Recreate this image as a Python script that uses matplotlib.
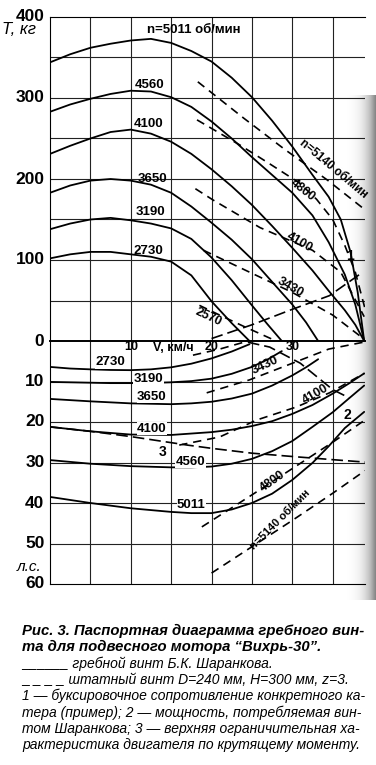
import numpy as np
import matplotlib
matplotlib.use('Agg')
import matplotlib.pyplot as plt

plt.rcParams['font.family'] = ['Liberation Sans', 'DejaVu Sans']

# --- тяга, винт Шаранкова (сплошные) ---
v_s5011 = [0, 2.5, 5, 7.5, 10, 12.5, 15, 17.5, 20, 22.5, 25, 27.5, 30, 32.5, 34.5, 36, 37.2, 38.1, 38.9]
t_s5011 = [344, 354, 362, 367, 371, 373, 368, 358, 345, 325, 301, 272, 240, 205, 178, 150, 110, 60, 0]
v_s4560 = [0, 2.5, 5, 7.5, 10, 12.5, 15, 17.5, 20, 22.5, 25, 27.5, 30, 32.5, 34.5, 36.5, 37.8, 38.9]
t_s4560 = [283, 292, 299, 305, 309, 308, 301, 289, 271, 250, 227, 205, 183, 155, 122, 82, 45, 0]
v_s4100 = [0, 2.5, 5, 7.5, 10, 12.5, 15, 17.5, 20, 22.5, 25, 27.5, 30, 32.5, 34.5, 36.5, 37.8, 38.9]
t_s4100 = [231, 241, 250, 258, 261, 256, 246, 231, 212, 191, 168, 142, 115, 87, 62, 38, 20, 0]
v_s3650 = [0, 2.5, 5, 7.5, 10, 12.5, 15, 17.5, 20, 22.5, 25, 27.5, 30, 31.7, 33.2]
t_s3650 = [183, 192, 198, 200, 198, 193, 183, 166, 146, 125, 101, 73, 45, 23, 0]
v_s3190 = [0, 2.5, 5, 7.5, 10, 12.5, 15, 17.5, 20, 22.5, 25, 26.9, 28.7]
t_s3190 = [138, 145, 150, 152, 149, 145, 139, 126, 103, 75, 44, 21, 0]
v_s2730 = [0, 2.5, 5, 7.5, 10, 12.5, 15, 17.5, 20, 22.5, 24.7]
t_s2730 = [102, 107, 110, 110, 107, 104, 98, 81, 49, 22, 0]

# --- тяга, штатный винт (пунктир) ---
v_d5140 = [18.3, 24, 29, 34.3, 39]
t_d5140 = [320, 275, 237, 199, 162]
v_d4800 = [18.2, 23.5, 27, 30.9, 33, 35, 36.5, 37.8, 39]
t_d4800 = [273, 242, 220, 195, 175, 150, 118, 85, 40]
v_d4100 = [18, 20.2, 26, 32.5, 36, 38.9]
t_d4100 = [188, 174, 140, 112, 85, 30]
v_d3430 = [19, 24.7, 30, 35, 38.8]
t_d3430 = [112, 85, 60, 32, 3]
v_d2570 = [18.5, 21, 24, 28]
t_d2570 = [44, 32, 18, 0]

# 1 - буксировочное сопротивление
v_tow = [20, 25, 29.7, 34.6, 38.3]
t_tow = [3, 20, 38, 56, 82]

# --- мощность, винт Шаранкова ---
v_p2730 = [0, 2.5, 5, 7.5, 10, 12.5, 15, 17.5, 20, 22.5, 24.7]
p_p2730 = [6.4, 6.8, 7.0, 7.15, 7.2, 7.0, 6.5, 5.6, 4.3, 2.6, 0.8]
v_p3190 = [0, 2.5, 5, 7.5, 10, 12.5, 15, 17.5, 20, 22.5, 25, 27, 28.7]
p_p3190 = [10.1, 10.2, 10.3, 10.4, 10.4, 10.35, 10.2, 9.9, 9.3, 8.1, 6.4, 4.5, 2.5]
v_p3650 = [0, 5, 10, 12.5, 15, 17.5, 20, 22.5, 25, 27.5, 30, 31.7, 33.2]
p_p3650 = [14.3, 14.9, 15.4, 15.5, 15.6, 15.4, 15, 14.2, 13, 11, 8.5, 6.5, 4.5]
v_p4100 = [0, 5, 10, 15, 20, 22.5, 25, 27.5, 30, 32.5, 35, 37, 38.9]
p_p4100 = [21.2, 22.3, 23.1, 23.2, 22.5, 21.9, 21, 19.8, 18, 15.8, 13, 10.5, 8]
v_p4560 = [0, 5, 10, 15, 17.5, 20, 22.5, 25, 27.5, 30, 32.5, 35, 37, 38.9]
p_p4560 = [29.4, 30.3, 30.9, 31.2, 31.2, 31, 30.3, 29.1, 27.2, 24.7, 21.2, 17.6, 14.2, 11]
v_p5011 = [0, 5, 10, 15, 17.5, 20, 22.5, 25, 27.5, 30, 32.5, 34.5, 36.5, 38.9]
p_p5011 = [38.5, 40, 41.3, 42.2, 42.5, 42.5, 41.6, 40, 37.7, 34.3, 30.1, 26, 21.5, 17.5]

# --- мощность, штатный винт ---
v_q2570 = [17.7, 21, 24]
p_q2570 = [3.5, 2, 0.3]
v_q3430 = [19.4, 24.7, 30, 34.5, 38.8]
p_q3430 = [12.8, 9.6, 5.5, 2, 0.3]
v_q4100 = [16, 21, 25.6, 30.5, 34.6, 38.9]
p_q4100 = [25.7, 23.7, 19.5, 16.3, 12.8, 8]
v_q4800 = [18.8, 25, 30, 35, 39]
p_q4800 = [45.9, 38, 31.5, 25, 19.5]
v_q5140 = [20, 25, 30, 35, 39]
p_q5140 = [57.3, 50.8, 44.3, 37.6, 32]

# 2 - мощность винта Шаранкова, 3 - ограничительная характеристика
v_c2 = [24.5, 27.2, 31, 35, 37]
p_c2 = [0.3, 1.5, 5.5, 12, 14]
v_c3 = [0, 5, 10, 17, 20, 25, 30.5, 35, 39]
p_c3 = [21.2, 22.3, 23.6, 25.7, 26.5, 27.7, 28.6, 29.3, 29.9]

t_ticks = [400, 300, 200, 100, 0]
p_ticks = [10, 20, 30, 40, 50, 60]
v_ticks = [10, 20, 30]

W, H = 376, 765
fig = plt.figure(figsize=(W / 100, H / 100), dpi=100)

# тень от сгиба страницы справа
shade = fig.add_axes([345 / W, 1 - 600 / H, 31 / W, 505 / H])
grad = np.linspace(0, 1, 40) ** 2
shade.imshow(np.tile(grad, (10, 1)), aspect='auto', cmap='Greys', vmin=0, vmax=1.8)
shade.axis('off')
shade.set_zorder(0)

L, R = 50, 365
ax_t = fig.add_axes([L / W, 1 - 341 / H, (R - L) / W, (341 - 17) / H])
ax_p = fig.add_axes([L / W, 1 - 584 / H, (R - L) / W, (584 - 341) / H])
for ax in (ax_t, ax_p):
    ax.set_zorder(1)
    ax.patch.set_alpha(0)
    ax.set_xlim(0, 39)
    ax.set_xticks(np.arange(5, 39, 5))
    ax.tick_params(length=0, labelbottom=False, labelleft=False)
    ax.grid(True, color='#222222', lw=0.8)
    ax.spines['right'].set_visible(False)
ax_t.set_ylim(0, 400)
ax_t.set_yticks(np.arange(50, 400, 50))
ax_t.spines['bottom'].set_visible(False)
ax_p.set_ylim(60, 0)
ax_p.set_yticks(np.arange(10, 60, 10))
ax_p.spines['top'].set_linewidth(1.4)

sol = dict(color='black', lw=1.3, solid_capstyle='round', solid_joinstyle='round')
dsh = dict(color='black', lw=1.2, ls=(0, (5, 3.5)))
dsh_long = dict(color='black', lw=1.2, ls=(0, (7, 3)))

for v, t in [(v_s5011, t_s5011), (v_s4560, t_s4560), (v_s4100, t_s4100),
             (v_s3650, t_s3650), (v_s3190, t_s3190), (v_s2730, t_s2730)]:
    ax_t.plot(v, t, **sol)
for v, t in [(v_d5140, t_d5140), (v_d4800, t_d4800), (v_d4100, t_d4100),
             (v_d3430, t_d3430), (v_d2570, t_d2570)]:
    ax_t.plot(v, t, **dsh)
ax_t.plot(v_tow, t_tow, **dsh_long)

for v, p in [(v_p2730, p_p2730), (v_p3190, p_p3190), (v_p3650, p_p3650),
             (v_p4100, p_p4100), (v_p4560, p_p4560), (v_p5011, p_p5011)]:
    ax_p.plot(v, p, **sol)
for v, p in [(v_q2570, p_q2570), (v_q3430, p_q3430), (v_q4100, p_q4100),
             (v_q4800, p_q4800), (v_q5140, p_q5140)]:
    ax_p.plot(v, p, **dsh)
ax_p.plot(v_c2, p_c2, **dsh_long)
ax_p.plot(v_c3, p_c3, **dsh_long)

# подписи осей
tb = dict(fontsize=12.5, fontweight='bold', ha='right', va='center')
for t in t_ticks:
    ax_t.annotate(str(t), (0, t), xytext=(-4, 0), textcoords='offset points',
                  annotation_clip=False, **tb)
for p in p_ticks:
    ax_p.annotate(str(p), (0, p), xytext=(-4, 0), textcoords='offset points',
                  annotation_clip=False, **tb)
for v in v_ticks:
    ax_p.text(v, 1.5, str(v), fontsize=9, fontweight='bold', ha='center', va='center')
ax_p.text(12.7, 1.7, 'V, км/ч', fontsize=9, fontweight='bold',
          ha='left', va='center')
fig.text(2 / W, 1 - 30 / H, 'T, кг', fontsize=12, style='italic', va='center')
fig.text(17 / W, 1 - 567 / H, 'л.с.', fontsize=11, style='italic', va='center')

# подписи кривых
lb = dict(fontsize=9.5, fontweight='bold', ha='center', va='center')
ax_t.text(12, 384, 'n=5011 об/мин', fontsize=9.5, fontweight='bold', ha='left', va='center')
for s, v, t in [('4560', 12.3, 316), ('4100', 12.2, 268), ('3650', 12.7, 200),
                ('3190', 12.5, 159), ('2730', 12.2, 111)]:
    ax_t.text(v, t, s, **lb)
for s, v, p in [('2730', 7.5, 5.3), ('3190', 12.2, 9.4), ('3650', 12.6, 13.8),
                ('4100', 12.6, 21.7), ('4560', 17.4, 29.9), ('5011', 17.5, 40.5)]:
    ax_p.text(v, p, s, bbox=dict(fc='white', ec='none', pad=0.3), **lb)

rl = dict(fontsize=9, fontweight='bold', ha='center', va='center', rotation_mode='anchor')
ax_t.text(30.6, 240, 'n=5140 об/мин', ha='left', va='bottom', fontsize=8.5,
          fontweight='bold', rotation=-40, rotation_mode='anchor')
ax_t.text(31.3, 186, '4800', rotation=-38, **rl)
ax_t.text(30.9, 122, '4100', rotation=-30, **rl)
ax_t.text(29.8, 66, '3430', rotation=-30, **rl)
ax_t.text(19.6, 30, '2570', rotation=-25, **rl)
ax_p.text(26.7, 5.9, '3430', rotation=25, **rl)
ax_p.text(32.9, 13.3, '4100', rotation=30, **rl)
ax_p.text(27.6, 34.6, '4800', rotation=35, **rl)
ax_p.text(28.5, 44.2, 'n=5140 об/мин', rotation=45, fontsize=8, fontweight='bold',
          ha='center', va='center', rotation_mode='anchor')

ax_t.text(37.2, 105, '1', fontsize=10, fontweight='bold', ha='center', va='center')
ax_p.text(36.8, 18.2, '2', fontsize=10, fontweight='bold', ha='center', va='center')
ax_p.text(14, 27.5, '3', fontsize=10, fontweight='bold', ha='center', va='center')

# подпись к рисунку
cap = [
    ('Рис. 3. Паспортная диаграмма гребного вин-', 'bold', 10.7),
    ('та для подвесного мотора “Вихрь-30”.', 'bold', 10.7),
    ('______ гребной винт Б.К. Шаранкова.', 'normal', 10),
    ('_ _ _ _ штатный винт D=240 мм, H=300 мм, z=3.', 'normal', 10),
    ('1 — буксировочное сопротивление конкретного ка-', 'normal', 10),
    ('тера (пример); 2 — мощность, потребляемая вин-', 'normal', 10),
    ('том Шаранкова; 3 — верхняя ограничительная ха-', 'normal', 10),
    ('рактеристика двигателя по крутящему моменту.', 'normal', 10),
]
y0, dy = 631, 16.3
for i, (s, w, fs) in enumerate(cap):
    fig.text(22 / W, 1 - (y0 + i * dy) / H, s, fontsize=fs, style='italic',
             fontweight=w, va='center', ha='left')

fig.savefig('out.png', dpi=100)
